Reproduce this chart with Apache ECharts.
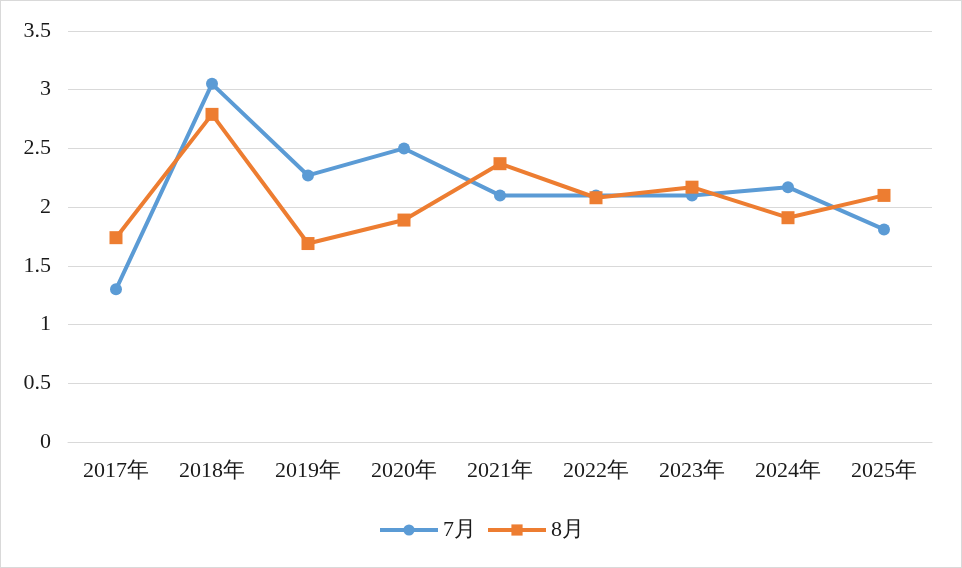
<!DOCTYPE html>
<html><head><meta charset="utf-8">
<script src="https://cdn.jsdelivr.net/npm/echarts@6/dist/echarts.min.js"></script>
<style>html,body{margin:0;padding:0;background:#fff}#c{width:962px;height:568px;box-sizing:border-box;border:1px solid #d9d9d9}</style>
</head><body><div id="c"></div>
<script>
const categories = ['2017年','2018年','2019年','2020年','2021年','2022年','2023年','2024年','2025年'];
const july = [1.30, 3.05, 2.27, 2.50, 2.10, 2.10, 2.10, 2.17, 1.81];
const august = [1.74, 2.79, 1.69, 1.89, 2.37, 2.08, 2.17, 1.91, 2.10];
const chart = echarts.init(document.getElementById('c'), null, {renderer:'canvas'});
const font = 'Liberation Serif';
chart.setOption({
  animation: false,
  grid: {left: 67, right: 29, top: 30, bottom: 125},
  legend: {
    bottom: 21, left: 'center', itemWidth: 58, itemHeight: 14, itemGap: 10,
    textStyle: {fontFamily: font, fontSize: 22, color: '#1a1a1a'},
    lineStyle: {width: 4},
    data: ['7月', '8月']
  },
  xAxis: {
    type: 'category', data: categories, boundaryGap: true,
    axisLine: {lineStyle: {color: '#d9d9d9', width: 1}},
    axisTick: {show: false},
    axisLabel: {fontFamily: font, fontSize: 22, color: '#1a1a1a', margin: 18}
  },
  yAxis: {
    type: 'value', min: 0, max: 3.5, interval: 0.5,
    axisLine: {show: false}, axisTick: {show: false},
    splitLine: {lineStyle: {color: '#d9d9d9', width: 1}},
    axisLabel: {fontFamily: font, fontSize: 22, color: '#1a1a1a', margin: 17}
  },
  series: [
    {name: '7月', type: 'line', data: july, symbol: 'circle', symbolSize: 12,
     lineStyle: {color: '#5B9BD5', width: 4}, itemStyle: {color: '#5B9BD5'}, z: 2},
    {name: '8月', type: 'line', data: august, symbol: 'rect', symbolSize: 13,
     lineStyle: {color: '#ED7D31', width: 4}, itemStyle: {color: '#ED7D31'}, z: 3}
  ]
});
</script></body></html>
